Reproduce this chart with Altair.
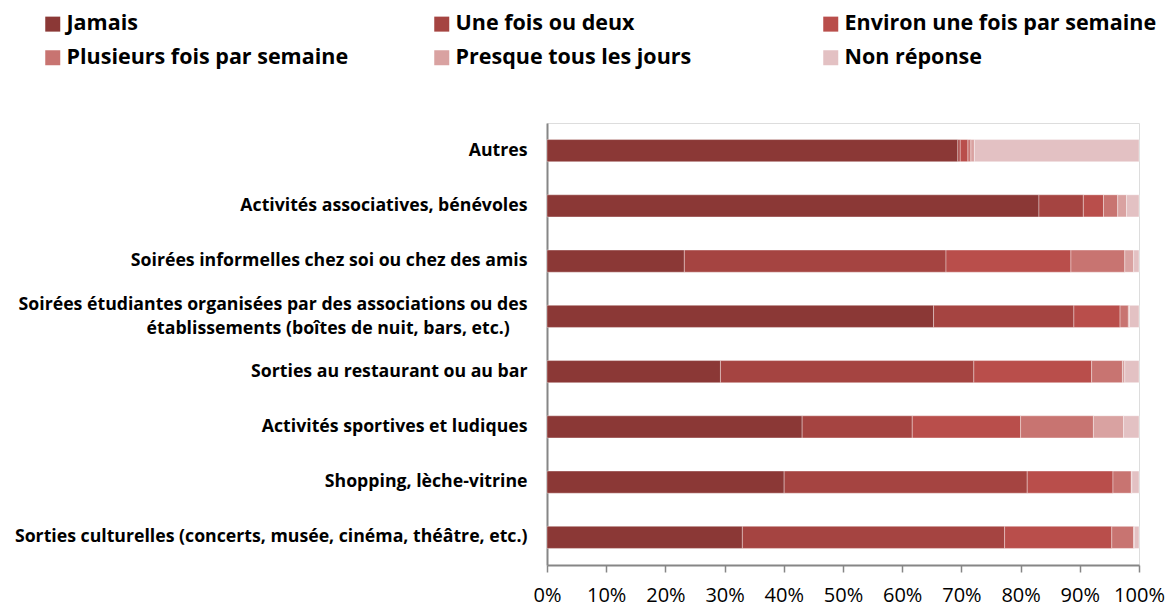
import altair as alt
import pandas as pd

activities = [
    "Autres",
    "Activités associatives, bénévoles",
    "Soirées informelles chez soi ou chez des amis",
    "Soirées étudiantes organisées par des associations ou des|établissements (boîtes de nuit, bars, etc.)\u2002\u2002\u200b",
    "Sorties au restaurant ou au bar",
    "Activités sportives et ludiques",
    "Shopping, lèche-vitrine",
    "Sorties culturelles (concerts, musée, cinéma, théâtre, etc.)",
]

frequencies = [
    "Jamais",
    "Une fois ou deux",
    "Environ une fois par semaine",
    "Plusieurs fois par semaine",
    "Presque tous les jours",
    "Non réponse",
]

jamais = [69.4, 83.1, 23.2, 65.3, 29.3, 43.1, 40.1, 33.0]
une_fois = [0.4, 7.5, 44.2, 23.7, 42.8, 18.6, 41.1, 44.3]
environ = [1.3, 3.4, 21.1, 7.8, 19.9, 18.3, 14.5, 18.1]
plusieurs = [0.5, 2.4, 9.1, 1.4, 5.2, 12.3, 3.1, 3.7]
presque = [0.6, 1.5, 1.5, 0.2, 0.4, 5.1, 0.1, 0.1]
non_reponse = [27.8, 2.1, 0.9, 1.6, 2.4, 2.6, 1.2, 0.8]

colors = ["#8B3836", "#A54441", "#B94E4B", "#C87471", "#D9A2A1", "#E3C1C3"]

series = [jamais, une_fois, environ, plusieurs, presque, non_reponse]
rows = []
for fi, (freq, vals) in enumerate(zip(frequencies, series)):
    for act, v in zip(activities, vals):
        rows.append({"activite": act, "frequence": freq, "ordre": fi, "valeur": v / 100.0})
df = pd.DataFrame(rows)

FONT = "Open Sans"

chart = alt.Chart(df).mark_bar(
    stroke="white", strokeWidth=0.6, strokeOpacity=0.6
).encode(
    x=alt.X(
        "valeur:Q",
        stack="normalize",
        scale=alt.Scale(domain=[0, 1], nice=False),
        axis=alt.Axis(
            values=[i / 10 for i in range(11)],
            format=".0%",
            title=None,
            grid=False,
            domainColor="#868686",
            domainWidth=2,
            tickColor="#868686",
            tickWidth=1.5,
            tickSize=7,
            labelFontSize=20,
            labelFont=FONT,
            labelColor="#000000",
            labelPadding=13,
            labelFlush=False,
        ),
    ),
    y=alt.Y(
        "activite:N",
        sort=activities,
        scale=alt.Scale(paddingInner=0.6, paddingOuter=0.3),
        axis=alt.Axis(
            title=None,
            ticks=False,
            domainColor="#868686",
            domainWidth=2,
            labelFontSize=17.7,
            labelFont=FONT,
            labelFontWeight="bold",
            labelColor="#000000",
            labelPadding=20,
            labelLimit=600,
            labelLineHeight=24,
            labelOffset={"condition": {"test": "indexof(datum.value, '|') >= 0", "value": -11}, "value": 0},
            labelExpr="split(datum.label, '|')",
        ),
    ),
    color=alt.Color(
        "frequence:N",
        sort=frequencies,
        scale=alt.Scale(domain=frequencies, range=colors),
        legend=alt.Legend(
            title=None,
            orient="none",
            legendX=-505,
            legendY=-110,
            direction="horizontal",
            columns=3,
            gridAlign="all",
            columnPadding=52,
            rowPadding=11,
            symbolType="square",
            symbolSize=225,
            symbolStrokeWidth=0,
            symbolOpacity=1,
            labelFontSize=21.5,
            labelFont=FONT,
            labelFontWeight="bold",
            labelColor="#000000",
            labelOffset=3,
            labelLimit=500,
            padding=0,
        ),
    ),
    order=alt.Order("ordre:Q", sort="ascending"),
).properties(
    width=592,
    height=442,
    autosize=alt.AutoSizeParams(type="none"),
    padding={"left": 539, "top": 115, "right": 26, "bottom": 44},
).configure_view(stroke=None).configure(font=FONT)

chart.save("out.html", embed_options={"renderer": "svg", "actions": False})
